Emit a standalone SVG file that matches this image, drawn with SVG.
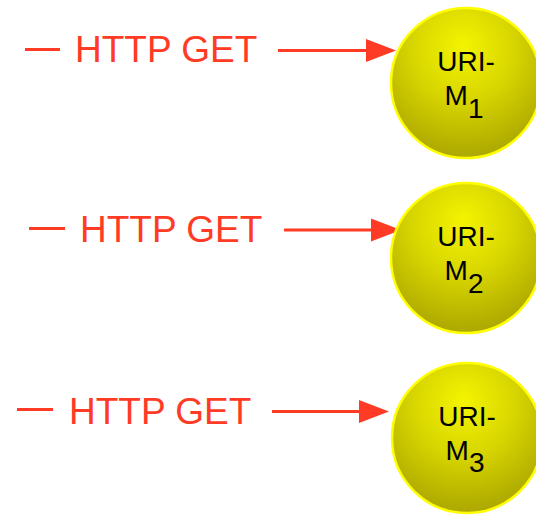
<svg xmlns="http://www.w3.org/2000/svg" width="536" height="515" viewBox="0 0 536 515">
<style>
.lbl{font-family:"Liberation Sans",Arial,sans-serif;font-size:37px;fill:#ff3b25}
.ln{stroke:#ff3b25;stroke-width:3;fill:none}
.head{fill:#ff3b25}
.ball{fill:url(#g);stroke:#ffff00;stroke-width:2.5}
.nt{font-family:"Liberation Sans",Arial,sans-serif;font-size:28px;fill:#000;text-anchor:middle}
</style>
<defs>
<radialGradient id="g" cx="0.48" cy="0.3" r="0.75" fx="0.48" fy="0.25">
<stop offset="0" stop-color="#f4f400"/>
<stop offset="0.45" stop-color="#d8d600"/>
<stop offset="0.8" stop-color="#b8b400"/>
<stop offset="1" stop-color="#a6a200"/>
</radialGradient>
</defs>
<g id="connectors">
<g id="e1">
<line class="ln" x1="25" y1="49.5" x2="60" y2="49.5"/>
<text class="lbl" x="75" y="62">HTTP GET</text>
<line class="ln" x1="278" y1="50.5" x2="368" y2="50.5"/>
<polygon class="head" points="366,39 396,50.5 366,62"/>
</g>
<g id="e2">
<line class="ln" x1="29" y1="228.5" x2="65" y2="228.5"/>
<text class="lbl" x="80" y="242">HTTP GET</text>
<line class="ln" x1="284" y1="230" x2="373" y2="230"/>
<polygon class="head" points="371,218.5 401,230 371,241.5"/>
</g>
<g id="e3">
<line class="ln" x1="17" y1="409.5" x2="53" y2="409.5"/>
<text class="lbl" x="69" y="424">HTTP GET</text>
<line class="ln" x1="272" y1="411.5" x2="361" y2="411.5"/>
<polygon class="head" points="359,400 389,411.5 359,423"/>
</g>
</g>
<g id="n1">
<circle class="ball" cx="466" cy="83" r="75"/>
<text class="nt" x="466" y="71">URI-</text>
<text class="nt" x="464" y="105">M<tspan dy="13">1</tspan></text>
</g>
<g id="n2">
<circle class="ball" cx="466" cy="258" r="75"/>
<text class="nt" x="466" y="246">URI-</text>
<text class="nt" x="464" y="280">M<tspan dy="13">2</tspan></text>
</g>
<g id="n3">
<circle class="ball" cx="467" cy="438" r="75"/>
<text class="nt" x="467" y="426">URI-</text>
<text class="nt" x="465" y="460">M<tspan dy="12">3</tspan></text>
</g>
</svg>
